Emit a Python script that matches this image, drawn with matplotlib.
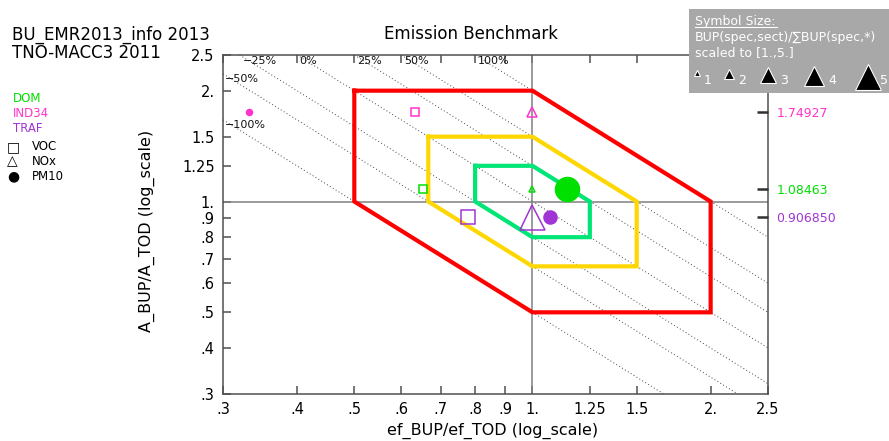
import numpy as np
import matplotlib.pyplot as plt
from matplotlib.patches import Rectangle
from matplotlib.ticker import NullLocator

# ------------------------------------------------------------
# datos
# ------------------------------------------------------------
sectors = ['DOM', 'IND34', 'TRAF']
sector_colors = ['#00e000', '#ff33cc', '#a035d5']
species = ['VOC', 'NOx', 'PM10']
species_markers = ['s', '^', 'o']
species_glyphs = ['\u25a1', '\u25b3', '\u25cf']

# ef_BUP/ef_TOD por sector (filas) y especie (columnas)
ef_ratio = [[0.652, 1.0, 1.142],
            [0.633, 1.0, 0.332],
            [0.779, 1.0, 1.070]]
# A_BUP/A_TOD por sector
area_ratio = [1.08463, 1.74927, 0.906850]
area_labels = ['1.08463', '1.74927', '0.906850']
# tamano de simbolo en [1, 5]
sym_size = [[1.5, 1.0, 4.6],
            [1.35, 1.9, 1.15],
            [2.7, 4.8, 2.5]]

ticks = [0.3, 0.4, 0.5, 0.6, 0.7, 0.8, 0.9, 1.0, 1.25, 1.5, 2.0, 2.5]
tick_labels = ['.3', '.4', '.5', '.6', '.7', '.8', '.9', '1.', '1.25', '1.5', '2.', '2.5']

# rangos del benchmark (hexagonos)
bench_factors = [2.0, 1.5, 1.25]
bench_colors = ['#ff0000', '#ffd700', '#00e676']

# isolineas x*y = c
iso_values = [0.5, 2 / 3, 0.8, 1.0, 1.25, 1.5, 2.0]
iso_labels = ['\u2212100%', '\u221250%', '\u221225%', '0%', '25%', '50%', '100%']

legend_sizes = [1, 2, 3, 4, 5]

W, H = 889, 441
LO, HI = 0.3, 2.5


def fx(px):
    return px / W


def fy(py):
    return 1 - py / H


fig = plt.figure(figsize=(W / 100, H / 100), dpi=100)
ax = fig.add_axes([fx(223), fy(394), (768 - 223) / W, (394 - 55) / H])
ax.set_xscale('log')
ax.set_yscale('log')
ax.set_xlim(LO, HI)
ax.set_ylim(LO, HI)

# isolineas punteadas (cuadrante sup-izq e inf-der)
for c, lab in zip(iso_values, iso_labels):
    x0, x1 = max(LO, c / HI), min(1.0, c)
    if x1 > x0:
        ax.plot([x0, x1], [c / x0, c / x1], linestyle=(0, (1, 2.5)),
                color='#444444', lw=0.7, zorder=1)
    x0, x1 = max(1.0, c), min(HI, c / LO)
    if x1 > x0:
        ax.plot([x0, x1], [c / x0, c / x1], linestyle=(0, (1, 2.5)),
                color='#444444', lw=0.7, zorder=1)
    if c / HI >= LO:
        ax.annotate(lab, (c / HI, HI), xytext=(2, -1), textcoords='offset points',
                    ha='left', va='top', fontsize=8, color='#111111')
    else:
        ax.annotate(lab, (LO, c / LO), xytext=(1, 0), textcoords='offset points',
                    ha='left', va='top', fontsize=8, color='#111111')

# cruz central
ax.axvline(1.0, color='#808080', lw=1.1, zorder=2)
ax.axhline(1.0, color='#808080', lw=1.1, zorder=2)

# hexagonos del benchmark
for f, col in zip(bench_factors, bench_colors):
    hx = [1 / f, 1, f, f, 1, 1 / f, 1 / f]
    hy = [f, f, 1, 1 / f, 1 / f, 1, f]
    ax.plot(hx, hy, color=col, lw=3, solid_joinstyle='miter', zorder=3)

# simbolos
for i, col in enumerate(sector_colors):
    for j, mk in enumerate(species_markers):
        ms = sym_size[i][j] * 3.75
        filled = mk == 'o'
        ax.plot(ef_ratio[i][j], area_ratio[i], marker=mk, ms=ms,
                mfc=col if filled else 'none', mec=col, mew=1.1,
                linestyle='none', zorder=5)

ax.xaxis.set_minor_locator(NullLocator())
ax.yaxis.set_minor_locator(NullLocator())
ax.set_xticks(ticks)
ax.set_xticklabels(tick_labels)
ax.set_yticks(ticks)
ax.set_yticklabels(tick_labels)
ax.tick_params(direction='in', length=6, width=1.1, color='#505050',
               top=True, right=True, labelsize=10.5, pad=6)
for sp in ax.spines.values():
    sp.set_color('#505050')
    sp.set_linewidth(1.1)

ax.set_xlabel('ef_BUP/ef_TOD (log_scale)', fontsize=11.5)
ax.set_ylabel('A_BUP/A_TOD (log_scale)', fontsize=11.5)
ax.xaxis.set_label_coords(0.495, -0.085)
ax.yaxis.set_label_coords(-0.125, 0.48)

# eje derecho con los valores de area por sector
ax2 = ax.twinx()
ax2.set_yscale('log')
ax2.set_ylim(LO, HI)
ax2.yaxis.set_minor_locator(NullLocator())
ax2.set_yticks(area_ratio)
ax2.set_yticklabels(area_labels)
for lbl, col in zip(ax2.get_yticklabels(), sector_colors):
    lbl.set_color(col)
ax2.tick_params(direction='in', length=8, width=1.8, color='#303030',
                labelsize=9, pad=6)
for sp in ax2.spines.values():
    sp.set_visible(False)

# textos de cabecera
fig.text(fx(12), fy(35), 'BU_EMR2013_info 2013', fontsize=12, va='center')
fig.text(fx(12), fy(53), 'TNO-MACC3 2011', fontsize=12, va='center')
fig.text(fx(471), fy(34), 'Emission Benchmark', fontsize=12, ha='center', va='center')

# leyenda izquierda
for k, (name, col) in enumerate(zip(sectors, sector_colors)):
    fig.text(fx(13), fy(99 + 14.5 * k), name, color=col, fontsize=8.5, va='center')
for k, (name, g) in enumerate(zip(species, species_glyphs)):
    fig.text(fx(7), fy(147 + 14.5 * k), g, fontsize=10, va='center')
    fig.text(fx(32), fy(147 + 14.5 * k), name, fontsize=8.5, va='center')

# recuadro gris con tamano de simbolos
ov = fig.add_axes([0, 0, 1, 1])
ov.set_xlim(0, W)
ov.set_ylim(H, 0)
ov.axis('off')
ov.add_patch(Rectangle((689, 9), 220, 83.5, facecolor='#a8a8a8',
                       edgecolor='none', zorder=1))
ov.text(695, 21, 'Symbol Size:', color='white', fontsize=9, va='center', zorder=2)
ov.plot([695, 777], [27, 27], color='white', lw=0.8, zorder=2)
ov.text(695, 38, 'BUP(spec,sect)/\u2211BUP(spec,*)', color='white', fontsize=9,
        va='center', zorder=2)
ov.text(695, 54, 'scaled to [1.,5.]', color='white', fontsize=9, va='center', zorder=2)
tx = 697
for s in legend_sizes:
    ov.plot(tx, 72 + s * 0.9, marker='^', ms=s * 3.75, mfc='black', mec='white',
            mew=0.8, linestyle='none', zorder=3)
    ov.text(min(tx + s * 2.7 + 4, 880), 81, str(s), color='white', fontsize=9,
            va='center', zorder=3)
    tx += 24 + s * 7.5

plt.savefig('out.png', dpi=100, facecolor='white')
plt.close()
